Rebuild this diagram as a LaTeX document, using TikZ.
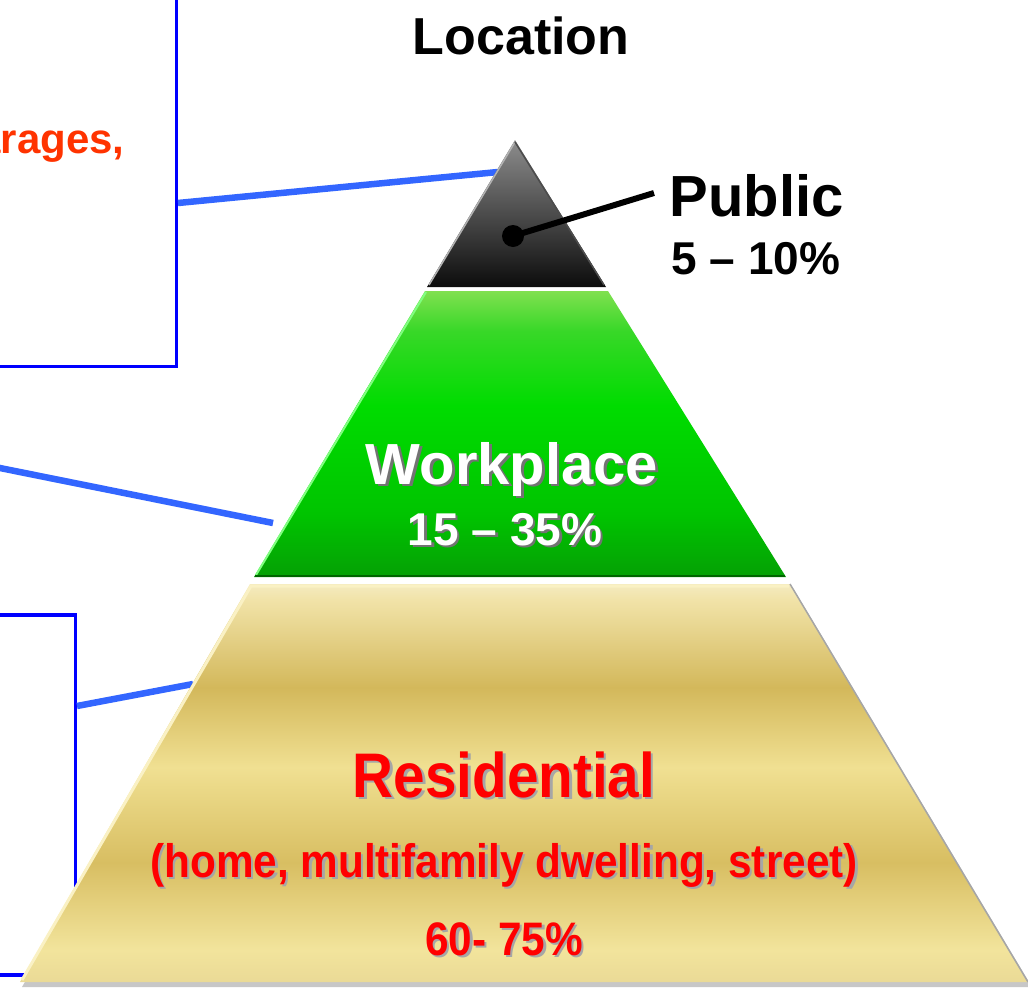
\documentclass[tikz,border=0pt]{standalone}
\usepackage{fontspec}
\setmainfont{Liberation Sans}
\newfontfamily\narrowfont[FakeStretch=0.9]{Liberation Sans}

\definecolor{boxblue}{HTML}{0000FF}
\definecolor{linkblue}{HTML}{3366FF}
\definecolor{garageorange}{HTML}{FF3300}
\definecolor{resred}{HTML}{FF0000}
\definecolor{pubtop}{HTML}{8C8C8C}
\definecolor{pubmid}{HTML}{3A3A3A}
\definecolor{pubbottom}{HTML}{0C0C0C}
\definecolor{worktop}{HTML}{80E050}
\definecolor{workhigh}{HTML}{38D828}
\definecolor{workmid}{HTML}{00DC00}
\definecolor{worklow}{HTML}{00C400}
\definecolor{workbottom}{HTML}{05A005}
\definecolor{goldtop}{HTML}{F5EBC0}
\definecolor{goldpale}{HTML}{F1E3A8}
\definecolor{golddark}{HTML}{D3B85B}
\definecolor{goldlight}{HTML}{F0E092}
\definecolor{golddeep}{HTML}{D8BE62}
\definecolor{goldlow}{HTML}{F2E49C}
\definecolor{goldbottom}{HTML}{EADA96}
\definecolor{goldedge}{HTML}{FAF1C4}

% bands of the lower tier, bottom to top
\pgfdeclareverticalshading{goldband}{100bp}{color(0bp)=(goldbottom); color(25bp)=(goldbottom);
  color(29bp)=(goldlow); color(40bp)=(golddeep); color(52bp)=(goldlight);
  color(62bp)=(golddark); color(73bp)=(goldpale); color(75bp)=(goldtop); color(100bp)=(goldtop)}
% middle tier, bright green with a lime top
\pgfdeclareverticalshading{greenband}{100bp}{color(0bp)=(workbottom); color(25bp)=(workbottom);
  color(36bp)=(worklow); color(55bp)=(workmid); color(68bp)=(workhigh);
  color(75bp)=(worktop); color(100bp)=(worktop)}

% text with a small drop shadow
\newcommand{\shadowed}[2][black!55]{\makebox[0pt][l]{\hspace{2.5pt}\raisebox{-2.5pt}{\textcolor{#1}{#2}}}#2}

\begin{document}
\begin{tikzpicture}[x=1pt,y=-1pt,
  boxline/.style={draw=boxblue, line width=3.5pt, inner sep=0pt},
  link/.style={draw=linkblue, line width=6.5pt},
  bigtext/.style={font=\bfseries\fontsize{58}{62}\selectfont},
  midtext/.style={font=\bfseries\fontsize{46}{50}\selectfont},
  restext/.style={text=resred, font=\narrowfont\bfseries\fontsize{47}{50}\selectfont}]
\useasboundingbox (0,0) rectangle (1028,988);
\clip (0,0) rectangle (1028,988);

% side boxes
\node[boxline, minimum width=220pt, minimum height=400pt, anchor=south east] (garagebox) at (178,368) {};
\node[anchor=base east, text=garageorange, font=\bfseries\fontsize{42}{46}\selectfont] (garagetext) at (128,153) {arages,};
\node[boxline, minimum width=120pt, minimum height=360pt, anchor=north east] (homebox) at (77,613) {};

% connectors
\coordinate (garagelink) at (178,203);
\coordinate (publink) at (498,172);
\coordinate (worklink0) at (-5,467);
\coordinate (worklink) at (273,523);
\coordinate (homelink) at (77,706);
\coordinate (reslink) at (193,684);
\draw[link] (garagelink) -- (publink);
\draw[link] (worklink0) -- (worklink);
\draw[link] (homelink) -- (reslink);

% lower tier
\fill[black!22] (253,588) -- (793,588) -- (1032,987) -- (22,987) -- cycle;
\shade[shading=goldband] (250,584) -- (790,584) -- (1028,982) -- (20,982) -- cycle;
\draw[goldedge, line width=3pt] (22,980) -- (251,586) -- (789,586);
\draw[black!35, line width=1.5pt] (790,584) -- (1028,982);

% middle tier
\shade[shading=greenband] (425,291) -- (608,291) -- (786,577) -- (254,577) -- cycle;
\draw[green!50!white, line width=2pt] (256,575) -- (426,292);
\draw[green!40!black, line width=2pt] (255,576) -- (785,576);

% top tier
\shade[top color=pubtop, middle color=pubmid, bottom color=pubbottom] (515,140) -- (606,287) -- (427,287) -- cycle;
\draw[black!30!white, line width=1.5pt] (429,285) -- (515,142);
\draw[black!70, line width=1.5pt] (515,142) -- (604,285);

% labels
\node[anchor=base, font=\bfseries\fontsize{52}{56}\selectfont] (title) at (521,54) {Location};

\node[circle, fill=black, inner sep=0pt, minimum size=22pt] (pubdot) at (513,236) {};
\node[anchor=base west, bigtext] (pubname) at (666,216) {Public};
\node[anchor=base west, midtext] (pubshare) at (668,274) {5 – 10\%};
\coordinate (publead) at (654,193);
\draw[line width=6pt] (pubdot.center) -- (publead);

\node[anchor=base, bigtext, text=white] (workname) at (512,484) {\shadowed{Workplace}};
\node[anchor=base, midtext, text=white] (workshare) at (505,545) {\shadowed{15 – 35\%}};

\node[anchor=base, restext, font=\narrowfont\bfseries\fontsize{63}{66}\selectfont] (resname) at (504,797) {\shadowed[black!35]{Residential}};
\node[anchor=base, restext] (reskind) at (504,877) {\shadowed[black!35]{(home, multifamily dwelling, street)}};
\node[anchor=base, restext] (resshare) at (504,955) {\shadowed[black!35]{60- 75\%}};

\end{tikzpicture}
\end{document}
